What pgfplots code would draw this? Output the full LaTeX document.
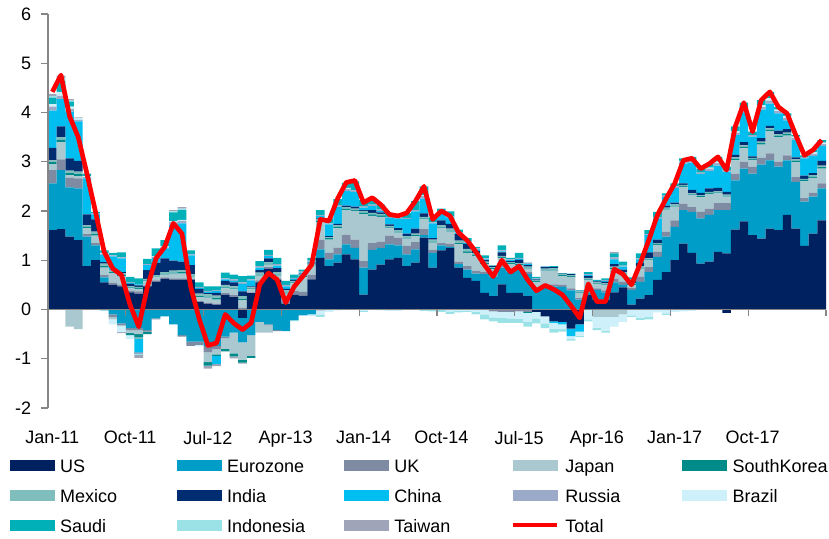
\documentclass[border=0pt]{standalone}
\usepackage{fontspec}
\setmainfont{Liberation Sans}
\usepackage{pgfplots}
\usepackage{pgfplotstable}
\pgfplotsset{compat=1.18}

\definecolor{cUS}{RGB}{0,33,96}
\definecolor{cEZ}{RGB}{0,157,200}
\definecolor{cUK}{RGB}{126,139,163}
\definecolor{cJP}{RGB}{170,200,208}
\definecolor{cSK}{RGB}{0,139,139}
\definecolor{cMX}{RGB}{128,189,189}
\definecolor{cIN}{RGB}{0,45,114}
\definecolor{cCN}{RGB}{0,190,240}
\definecolor{cRU}{RGB}{155,170,200}
\definecolor{cBR}{RGB}{205,240,250}
\definecolor{cSA}{RGB}{0,176,185}
\definecolor{cID}{RGB}{155,226,230}
\definecolor{cTW}{RGB}{160,164,185}
\definecolor{axisgray}{RGB}{134,134,134}

% positive contributions, month index i = 0 (Jan-11) ... 89 (Jun-18)
\pgfplotstableread{
i US EZ UK JP SK MX IN CN RU BR SA ID TW
0 1.61 0.95 0.27 0.12 0.04 0.04 0.25 0.76 0.08 0.05 0.13 0.03 0.05
1 1.63 1.20 0.22 0.35 0.05 0.05 0.22 0.55 0.07 0.08 0.22 0.06 0.05
2 1.48 1.00 0.20 0.05 0.04 0.05 0.25 0.95 0.05 0.05 0.10 0.02 0.03
3 1.41 1.05 0.20 0.05 0.04 0.05 0.22 0.80 0.03 0.03 0.00 0.00 0.02
4 0.88 0.60 0.05 0.12 0.03 0.03 0.22 0.73 0.03 0.02 0.05 0.00 0.00
5 1.00 0.30 0.05 0.15 0.03 0.05 0.25 0.10 0.02 0.00 0.03 0.00 0.00
6 0.55 0.10 0.05 0.15 0.03 0.05 0.03 0.15 0.02 0.02 0.05 0.00 0.00
7 0.50 0.00 0.04 0.20 0.02 0.04 0.00 0.28 0.02 0.00 0.05 0.00 0.00
8 0.47 0.00 0.03 0.18 0.03 0.03 0.02 0.28 0.02 0.00 0.10 0.00 0.00
9 0.35 0.00 0.03 0.05 0.02 0.02 0.05 0.02 0.02 0.00 0.10 0.00 0.00
10 0.32 0.00 0.05 0.05 0.02 0.02 0.03 0.02 0.00 0.00 0.12 0.00 0.00
11 0.47 0.00 0.02 0.08 0.02 0.03 0.18 0.10 0.02 0.00 0.11 0.00 0.00
12 0.56 0.00 0.03 0.06 0.02 0.03 0.25 0.10 0.02 0.01 0.16 0.00 0.00
13 0.62 0.00 0.03 0.06 0.02 0.03 0.28 0.20 0.02 0.02 0.13 0.00 0.00
14 0.60 0.00 0.03 0.10 0.02 0.04 0.20 0.72 0.06 0.02 0.18 0.02 0.03
15 0.60 0.00 0.03 0.10 0.03 0.04 0.17 0.78 0.05 0.02 0.20 0.03 0.03
16 0.60 0.00 0.02 0.05 0.02 0.03 0.18 0.20 0.02 0.00 0.08 0.00 0.00
17 0.15 0.00 0.02 0.08 0.02 0.05 0.10 0.02 0.02 0.00 0.09 0.00 0.00
18 0.12 0.00 0.02 0.10 0.02 0.05 0.02 0.03 0.02 0.00 0.09 0.00 0.00
19 0.10 0.00 0.02 0.08 0.03 0.05 0.06 0.04 0.02 0.00 0.07 0.00 0.00
20 0.30 0.00 0.03 0.10 0.02 0.05 0.08 0.03 0.02 0.00 0.12 0.00 0.00
21 0.25 0.00 0.04 0.12 0.02 0.04 0.08 0.03 0.03 0.00 0.10 0.00 0.00
22 0.00 0.00 0.04 0.15 0.02 0.06 0.10 0.15 0.03 0.00 0.13 0.00 0.00
23 0.33 0.00 0.02 0.06 0.02 0.02 0.02 0.12 0.02 0.00 0.08 0.00 0.00
24 0.55 0.00 0.04 0.10 0.02 0.04 0.05 0.05 0.03 0.00 0.10 0.00 0.00
25 0.83 0.00 0.03 0.05 0.02 0.03 0.08 0.05 0.02 0.00 0.10 0.00 0.00
26 0.60 0.00 0.03 0.06 0.02 0.05 0.08 0.05 0.03 0.00 0.13 0.00 0.00
27 0.12 0.00 0.06 0.14 0.02 0.05 0.03 0.05 0.03 0.00 0.08 0.00 0.00
28 0.30 0.00 0.08 0.15 0.02 0.03 0.02 0.02 0.02 0.00 0.07 0.00 0.00
29 0.28 0.00 0.08 0.30 0.02 0.03 0.02 0.02 0.02 0.00 0.04 0.00 0.00
30 0.61 0.00 0.10 0.18 0.02 0.02 0.02 0.02 0.02 0.00 0.06 0.00 0.00
31 1.05 0.17 0.20 0.35 0.03 0.03 0.02 0.05 0.02 0.00 0.10 0.00 0.00
32 0.88 0.14 0.13 0.27 0.03 0.02 0.02 0.24 0.02 0.00 0.10 0.00 0.00
33 0.95 0.17 0.13 0.40 0.03 0.03 0.03 0.35 0.03 0.00 0.12 0.00 0.00
34 1.12 0.20 0.20 0.50 0.03 0.03 0.03 0.30 0.04 0.02 0.10 0.00 0.00
35 1.02 0.23 0.17 0.58 0.02 0.03 0.04 0.30 0.03 0.00 0.18 0.00 0.00
36 0.30 0.55 0.13 0.95 0.03 0.04 0.02 0.05 0.03 0.00 0.12 0.00 0.00
37 0.81 0.40 0.14 0.55 0.03 0.03 0.06 0.08 0.03 0.00 0.14 0.00 0.00
38 0.91 0.34 0.13 0.50 0.03 0.03 0.03 0.03 0.03 0.00 0.10 0.00 0.00
39 1.02 0.30 0.18 0.15 0.02 0.03 0.03 0.13 0.02 0.00 0.08 0.00 0.00
40 1.05 0.25 0.16 0.10 0.02 0.03 0.04 0.20 0.02 0.00 0.06 0.00 0.00
41 0.88 0.24 0.17 0.15 0.02 0.03 0.05 0.30 0.02 0.00 0.10 0.00 0.00
42 0.95 0.27 0.15 0.12 0.02 0.03 0.10 0.35 0.03 0.00 0.18 0.00 0.00
43 1.46 0.05 0.12 0.20 0.02 0.03 0.07 0.30 0.05 0.02 0.18 0.00 0.00
44 0.85 0.30 0.06 0.15 0.02 0.04 0.03 0.30 0.02 0.00 0.10 0.00 0.00
45 1.20 0.10 0.05 0.30 0.02 0.04 0.10 0.15 0.02 0.00 0.07 0.00 0.00
46 1.25 0.02 0.07 0.24 0.02 0.04 0.10 0.13 0.02 0.00 0.10 0.00 0.00
47 0.85 0.07 0.05 0.35 0.03 0.05 0.13 0.02 0.02 0.00 0.05 0.00 0.00
48 0.64 0.17 0.07 0.27 0.03 0.05 0.10 0.02 0.03 0.00 0.07 0.00 0.00
49 0.58 0.15 0.06 0.30 0.02 0.04 0.04 0.03 0.02 0.00 0.03 0.00 0.00
50 0.34 0.38 0.05 0.15 0.02 0.03 0.03 0.02 0.02 0.00 0.06 0.00 0.00
51 0.27 0.40 0.05 0.10 0.02 0.02 0.02 0.00 0.01 0.00 0.01 0.00 0.00
52 0.51 0.34 0.10 0.10 0.02 0.02 0.07 0.02 0.02 0.00 0.10 0.00 0.00
53 0.34 0.43 0.05 0.10 0.02 0.02 0.02 0.02 0.02 0.00 0.03 0.00 0.00
54 0.34 0.46 0.05 0.05 0.02 0.02 0.07 0.02 0.02 0.00 0.10 0.00 0.00
55 0.27 0.45 0.04 0.07 0.02 0.02 0.03 0.02 0.02 0.00 0.01 0.00 0.00
56 0.00 0.40 0.04 0.12 0.02 0.02 0.01 0.01 0.01 0.00 0.03 0.00 0.00
57 0.00 0.44 0.05 0.30 0.02 0.02 0.03 0.01 0.01 0.00 0.00 0.00 0.00
58 0.00 0.47 0.04 0.28 0.02 0.03 0.02 0.00 0.00 0.00 0.02 0.00 0.00
59 0.00 0.46 0.04 0.18 0.02 0.02 0.01 0.00 0.00 0.00 0.01 0.00 0.00
60 0.00 0.39 0.04 0.23 0.02 0.02 0.02 0.00 0.00 0.00 0.01 0.00 0.00
61 0.00 0.20 0.03 0.10 0.02 0.02 0.01 0.00 0.00 0.00 0.01 0.00 0.00
62 0.30 0.05 0.04 0.20 0.02 0.03 0.04 0.02 0.02 0.00 0.04 0.00 0.00
63 0.20 0.20 0.03 0.08 0.02 0.02 0.02 0.01 0.00 0.00 0.02 0.00 0.00
64 0.20 0.15 0.04 0.10 0.02 0.02 0.03 0.02 0.02 0.00 0.03 0.00 0.00
65 0.35 0.20 0.07 0.20 0.02 0.03 0.05 0.10 0.04 0.00 0.08 0.00 0.03
66 0.45 0.05 0.06 0.15 0.02 0.03 0.05 0.06 0.02 0.00 0.08 0.00 0.00
67 0.10 0.30 0.04 0.06 0.02 0.02 0.04 0.02 0.02 0.00 0.03 0.00 0.00
68 0.22 0.34 0.10 0.17 0.02 0.03 0.06 0.08 0.02 0.00 0.10 0.00 0.00
69 0.29 0.47 0.10 0.14 0.02 0.02 0.12 0.35 0.02 0.00 0.08 0.00 0.00
70 0.60 0.47 0.10 0.14 0.02 0.02 0.07 0.43 0.03 0.00 0.10 0.00 0.00
71 0.76 0.72 0.10 0.45 0.02 0.02 0.04 0.17 0.03 0.00 0.05 0.00 0.00
72 1.00 0.68 0.13 0.28 0.02 0.03 0.03 0.30 0.03 0.00 0.06 0.00 0.00
73 1.34 0.68 0.13 0.34 0.02 0.02 0.03 0.40 0.04 0.02 0.05 0.00 0.00
74 1.15 0.83 0.10 0.24 0.02 0.02 0.07 0.55 0.04 0.02 0.06 0.00 0.00
75 0.93 0.92 0.13 0.30 0.02 0.02 0.05 0.38 0.03 0.00 0.08 0.00 0.00
76 0.97 0.95 0.13 0.30 0.02 0.02 0.07 0.35 0.05 0.02 0.08 0.00 0.00
77 1.17 0.85 0.14 0.20 0.02 0.02 0.07 0.45 0.05 0.03 0.10 0.00 0.00
78 1.14 0.88 0.14 0.13 0.02 0.02 0.06 0.41 0.03 0.00 0.07 0.00 0.00
79 1.62 1.00 0.14 0.27 0.03 0.03 0.05 0.40 0.05 0.03 0.10 0.00 0.00
80 1.79 1.07 0.14 0.27 0.03 0.03 0.07 0.60 0.05 0.03 0.12 0.00 0.00
81 1.51 1.25 0.14 0.14 0.02 0.02 0.03 0.40 0.03 0.00 0.07 0.00 0.00
82 1.44 1.50 0.14 0.27 0.03 0.03 0.07 0.58 0.05 0.04 0.10 0.00 0.00
83 1.64 1.39 0.14 0.45 0.03 0.03 0.05 0.45 0.06 0.05 0.13 0.00 0.00
84 1.61 1.29 0.10 0.50 0.03 0.03 0.07 0.35 0.05 0.03 0.05 0.00 0.00
85 1.92 1.11 0.10 0.40 0.03 0.03 0.07 0.18 0.05 0.04 0.05 0.00 0.00
86 1.64 0.95 0.10 0.30 0.03 0.03 0.04 0.35 0.04 0.03 0.03 0.00 0.00
87 1.29 0.90 0.07 0.34 0.03 0.02 0.07 0.35 0.03 0.00 0.03 0.00 0.00
88 1.54 0.75 0.08 0.30 0.03 0.03 0.04 0.35 0.04 0.03 0.05 0.00 0.00
89 1.81 0.65 0.10 0.30 0.03 0.03 0.10 0.30 0.04 0.03 0.05 0.00 0.00
}\pos

% negative contributions, stacked downwards from zero
\pgfplotstableread{
i US EZ UK JP SK MX IN CN RU BR SA ID TW
0 0 0 0 0 0 0 0 0 0 0 0 0 0
1 0 0 0 0 0 0 0 0 0 0 0 0 0
2 0 0 0 -0.35 0 0 0 0 0 0 0 0 0
3 0 0 0 -0.40 0 0 0 0 0 0 0 0 0
4 0 0 0 0 0 0 0 0 0 0 0 0 0
5 0 0 0 0 0 0 0 0 0 0 0 0 0
6 0 -0.02 0 0 0 0 0 0 0 0 0 0 0
7 0 -0.10 -0.05 -0.05 0 0 0 0 0 -0.10 0 0 0
8 0 -0.28 -0.03 -0.03 0 0 0 0 0 -0.12 0 0 -0.02
9 0 -0.38 -0.04 -0.06 -0.04 0 0 0 0 -0.08 0 0 0
10 0 -0.38 -0.04 -0.08 -0.06 -0.04 0 -0.27 -0.03 0 0 -0.02 -0.06
11 0 -0.42 -0.03 0 -0.05 0 0 0 0 0 0 0 0
12 0 -0.18 -0.02 0 0 0 0 0 0 0 0 0 0
13 0 -0.14 0 0 0 0 0 0 0 0 0 0 0
14 0 -0.30 0 0 0 0 0 0 0 0 0 0 0
15 0 -0.52 -0.03 0 0 0 0 0 0 0 0 0 0
16 0 -0.65 -0.09 0 0 0 0 0 0 0 0 0 0
17 0 -0.65 -0.07 0 0 0 0 0 0 -0.03 0 0 0
18 0 -0.74 -0.13 -0.20 -0.07 0 0 0 0 0 0 0 -0.06
19 0 -0.74 -0.07 -0.10 -0.03 0 0 -0.17 0 0 0 0 -0.04
20 0 -0.55 -0.03 -0.22 -0.05 0 0 0 0 0 0 0 0
21 0 -0.47 0 -0.42 -0.06 0 0 0 0 0 0 0 -0.04
22 -0.17 -0.50 0 -0.35 -0.06 0 0 0 0 0 0 0 -0.02
23 0 -0.52 0 -0.42 -0.04 0 0 0 0 0 0 0 0
24 0 -0.25 0 -0.22 0 0 0 0 0 0 0 0 0
25 0 -0.30 -0.02 -0.15 0 0 0 0 0 0 0 0 0
26 0 -0.42 -0.02 0 0 0 0 0 0 0 0 0 0
27 0 -0.44 0 0 0 0 0 0 0 0 0 0 0
28 0 -0.22 0 0 0 0 0 0 0 -0.02 0 0 0
29 0 -0.12 0 0 0 0 0 0 0 0 0 0 0
30 0 -0.10 0 0 0 0 0 0 0 -0.04 0 0 0
31 0 0 -0.02 0 0 0 0 0 0 -0.08 0 -0.05 0
32 0 0 0 0 0 0 0 0 0 -0.05 0 0 0
33 0 0 0 0 0 0 0 0 0 -0.02 0 0 0
34 0 0 0 0 0 0 0 0 0 0 0 0 0
35 0 0 0 0 0 0 0 0 0 0 0 0 0
36 0 0 0 0 0 0 0 0 0 -0.03 0 -0.02 0
37 0 0 0 0 0 0 0 0 0 0 0 0 0
38 0 0 0 0 0 0 0 0 0 -0.02 0 0 0
39 0 0 0 0 0 0 0 0 0 -0.03 0 0 0
40 0 0 0 0 0 0 0 0 0 -0.03 0 0 0
41 0 0 0 0 0 0 0 0 0 0 0 0 0
42 0 0 0 0 0 0 0 0 0 0 0 0 0
43 0 0 0 0 0 0 0 0 0 0 0 -0.03 0
44 0 0 0 0 0 0 0 0 0 0 0 -0.04 0
45 0 0 0 0 0 0 0 0 0 0 0 -0.05 0
46 0 0 0 0 0 0 0 0 0 -0.04 0 -0.05 0
47 0 0 0 0 0 0 0 0 0 -0.03 0 -0.03 0
48 0 0 0 0 0 0 0 0 0 -0.03 0 -0.02 0
49 0 0 0 0 0 0 0 0 0 -0.05 0 -0.05 0
50 0 0 0 0 0 0 0 0 0 -0.10 0 -0.10 0
51 0 0 -0.04 0 0 0 0 0 0 -0.12 0 -0.08 0
52 0 0 -0.05 0 0 0 0 0 0 -0.12 0 -0.10 0
53 0 0 -0.05 0 0 0 0 0 0 -0.13 0 -0.09 0
54 0 0 -0.04 0 0 0 0 0 0 -0.15 0 -0.08 0
55 0 0 -0.05 0 -0.02 0 0 0 0 -0.18 0 -0.10 0
56 -0.05 0 0 0 0 0 0 0 0 -0.13 0 -0.10 0
57 -0.14 0 0 0 0 0 0 0 0 -0.14 0 -0.10 0
58 -0.24 0 0 0 0 0 0 -0.03 0 -0.12 0 -0.08 0
59 -0.25 0 0 0 0 0 0 -0.05 0 -0.10 0 -0.05 0
60 -0.39 0 0 0 0 0 0 -0.15 0 -0.06 0 -0.03 0
61 -0.30 0 0 0 0 0 0 -0.15 0 -0.08 0 -0.03 0
62 0 0 0 0 0 0 0 0 0 -0.20 0 -0.04 0
63 0 0 0 -0.15 0 0 0 0 0 -0.22 0 -0.05 0
64 0 0 0 -0.15 0 0 0 0 0 -0.28 0 -0.04 0
65 0 0 0 -0.15 0 0 0 0 0 -0.20 0 0 0
66 0 0 0 -0.10 0 0 0 0 0 -0.15 0 0 0
67 0 0 0 0 0 0 0 0 0 -0.12 0 -0.03 0
68 0 0 0 0 0 0 0 0 0 -0.17 0 -0.04 0
69 0 0 0 0 0 0 0 0 0 -0.15 0 -0.05 0
70 0 0 0 0 0 0 0 0 0 -0.06 0 0 0
71 0 0 0 0 0 0 0 0 0 -0.08 0 -0.03 0
72 0 0 0 0 0 0 0 0 0 -0.05 0 0 0
73 0 0 0 0 0 0 0 0 0 -0.04 0 0 0
74 0 0 0 0 0 0 0 0 0 -0.03 0 0 0
75 0 0 0 0 0 0 0 0 0 0 0 0 0
76 0 0 0 0 0 0 0 0 0 0 0 0 0
77 0 0 0 0 0 0 0 0 0 0 0 0 0
78 -0.07 0 0 0 0 0 0 0 0 0 0 0 0
79 0 0 0 0 0 0 0 0 0 0 0 0 0
80 0 0 0 0 0 0 0 0 0 0 0 0 0
81 0 0 0 0 0 0 0 0 0 0 0 0 0
82 0 0 0 0 0 0 0 0 0 0 0 0 0
83 0 0 0 0 0 0 0 0 0 0 0 0 0
84 0 0 0 0 0 0 0 0 0 0 0 0 0
85 0 0 0 0 0 0 0 0 0 0 0 0 0
86 0 0 0 0 0 0 0 0 0 0 0 0 0
87 0 0 0 0 0 0 0 0 0 0 0 0 0
88 0 0 0 0 0 0 0 0 0 0 0 0 0
89 0 0 0 0 0 0 0 0 0 0 0 0 0
}\neg

% total
\pgfplotstableread{
i T
0 4.42
1 4.76
2 3.92
3 3.50
4 2.76
5 1.98
6 1.17
7 0.83
8 0.70
9 0.09
10 -0.35
11 0.46
12 1.04
13 1.27
14 1.75
15 1.54
16 0.47
17 -0.20
18 -0.73
19 -0.68
20 -0.10
21 -0.28
22 -0.41
23 -0.27
24 0.51
25 0.74
26 0.61
27 0.14
28 0.47
29 0.68
30 0.91
31 1.83
32 1.80
33 2.25
34 2.58
35 2.62
36 2.17
37 2.27
38 2.13
39 1.93
40 1.90
41 1.96
42 2.20
43 2.50
44 1.83
45 2.00
46 1.90
47 1.56
48 1.40
49 1.17
50 0.90
51 0.67
52 1.00
53 0.76
54 0.88
55 0.60
56 0.38
57 0.49
58 0.41
59 0.30
60 0.08
61 -0.17
62 0.52
63 0.16
64 0.16
65 0.82
66 0.72
67 0.50
68 0.93
69 1.41
70 1.92
71 2.25
72 2.56
73 3.03
74 3.07
75 2.86
76 2.96
77 3.10
78 2.83
79 3.71
80 4.20
81 3.61
82 4.25
83 4.42
84 4.11
85 3.98
86 3.54
87 3.13
88 3.24
89 3.44
}\tot

\pgfplotsset{
  frame/.style={scale only axis, width=583.5pt, height=295.5pt,
    xmin=-0.5, xmax=89.5, ymin=-2, ymax=6},
  bars/.style={frame, hide axis, ybar stacked, bar width=1},
  swatch/.style={legend image code/.code={\fill[#1] (0pt,-1.6pt) rectangle (33pt,5.9pt);}},
}

\begin{document}
\begin{tikzpicture}
% negative parts
\begin{axis}[bars]
\addplot[fill=cUS, draw=none] table[x=i,y=US]{\neg};
\addplot[fill=cEZ, draw=none] table[x=i,y=EZ]{\neg};
\addplot[fill=cUK, draw=none] table[x=i,y=UK]{\neg};
\addplot[fill=cJP, draw=none] table[x=i,y=JP]{\neg};
\addplot[fill=cSK, draw=none] table[x=i,y=SK]{\neg};
\addplot[fill=cMX, draw=none] table[x=i,y=MX]{\neg};
\addplot[fill=cIN, draw=none] table[x=i,y=IN]{\neg};
\addplot[fill=cCN, draw=none] table[x=i,y=CN]{\neg};
\addplot[fill=cRU, draw=none] table[x=i,y=RU]{\neg};
\addplot[fill=cBR, draw=none] table[x=i,y=BR]{\neg};
\addplot[fill=cSA, draw=none] table[x=i,y=SA]{\neg};
\addplot[fill=cID, draw=none] table[x=i,y=ID]{\neg};
\addplot[fill=cTW, draw=none] table[x=i,y=TW]{\neg};
\end{axis}
% positive parts
\begin{axis}[bars]
\addplot[fill=cUS, draw=none] table[x=i,y=US]{\pos};
\addplot[fill=cEZ, draw=none] table[x=i,y=EZ]{\pos};
\addplot[fill=cUK, draw=none] table[x=i,y=UK]{\pos};
\addplot[fill=cJP, draw=none] table[x=i,y=JP]{\pos};
\addplot[fill=cSK, draw=none] table[x=i,y=SK]{\pos};
\addplot[fill=cMX, draw=none] table[x=i,y=MX]{\pos};
\addplot[fill=cIN, draw=none] table[x=i,y=IN]{\pos};
\addplot[fill=cCN, draw=none] table[x=i,y=CN]{\pos};
\addplot[fill=cRU, draw=none] table[x=i,y=RU]{\pos};
\addplot[fill=cBR, draw=none] table[x=i,y=BR]{\pos};
\addplot[fill=cSA, draw=none] table[x=i,y=SA]{\pos};
\addplot[fill=cID, draw=none] table[x=i,y=ID]{\pos};
\addplot[fill=cTW, draw=none] table[x=i,y=TW]{\pos};
\end{axis}
% axes, total line and legend
\begin{axis}[frame, name=main,
  axis x line=middle, axis y line=left,
  axis line style={-, draw=axisgray, line width=0.8pt},
  hide obscured x ticks=false, hide obscured y ticks=false,
  tick align=outside,
  xtick={0,9,...,81},
  xticklabels={Jan-11,Oct-11,Jul-12,Apr-13,Jan-14,Oct-14,Jul-15,Apr-16,Jan-17,Oct-17},
  major x tick style={draw=none},
  minor xtick={-0.5,8.5,...,89.5},
  minor x tick style={draw=axisgray, line width=0.8pt},
  minor tick length=5pt, major tick length=5pt,
  ytick={-2,...,6},
  y tick style={draw=axisgray, line width=0.8pt},
  /pgf/number format/assume math mode=true,
  tick label style={font=\fontsize{13.5}{15}\selectfont},
  xticklabel style={anchor=north, inner sep=0pt, yshift=-86pt},
  yticklabel style={anchor=east, inner sep=0pt, xshift=-7.5pt},
  legend columns=5,
  legend style={draw=none, fill=none, at={(0,0)}, anchor=north west,
    xshift=-29pt, yshift=-38.3pt, inner sep=0pt,
    font=\fontsize{13.5}{15}\selectfont, row sep=9.5pt,
    nodes={inner sep=0pt, text height=10pt, text depth=3pt},
    /tikz/every odd column/.append style={column sep=4.5pt}},
  legend cell align=left,
]
\addlegendimage{swatch=cUS}\addlegendentry{\makebox[87.4pt][l]{US}}
\addlegendimage{swatch=cEZ}\addlegendentry{\makebox[87.4pt][l]{Eurozone}}
\addlegendimage{swatch=cUK}\addlegendentry{\makebox[87.4pt][l]{UK}}
\addlegendimage{swatch=cJP}\addlegendentry{\makebox[87.4pt][l]{Japan}}
\addlegendimage{swatch=cSK}\addlegendentry{\makebox[87.4pt][l]{SouthKorea}}
\addlegendimage{swatch=cMX}\addlegendentry{\makebox[87.4pt][l]{Mexico}}
\addlegendimage{swatch=cIN}\addlegendentry{\makebox[87.4pt][l]{India}}
\addlegendimage{swatch=cCN}\addlegendentry{\makebox[87.4pt][l]{China}}
\addlegendimage{swatch=cRU}\addlegendentry{\makebox[87.4pt][l]{Russia}}
\addlegendimage{swatch=cBR}\addlegendentry{\makebox[87.4pt][l]{Brazil}}
\addlegendimage{swatch=cSA}\addlegendentry{\makebox[87.4pt][l]{Saudi}}
\addlegendimage{swatch=cID}\addlegendentry{\makebox[87.4pt][l]{Indonesia}}
\addlegendimage{swatch=cTW}\addlegendentry{\makebox[87.4pt][l]{Taiwan}}
\addplot[draw=red, line width=3.5pt, line join=round, mark=none,
  legend image code/.code={\draw[red, line width=3.5pt] (0pt,2.15pt) -- (33pt,2.15pt);}]
  table[x=i,y=T]{\tot};
\addlegendentry{\makebox[87.4pt][l]{Total}}
\end{axis}
\pgfresetboundingbox
\path[use as bounding box] ([shift={(-36pt,-97.5pt)}]main.south west) rectangle ([shift={(2.25pt,10.5pt)}]main.north east);
\end{tikzpicture}
\end{document}
